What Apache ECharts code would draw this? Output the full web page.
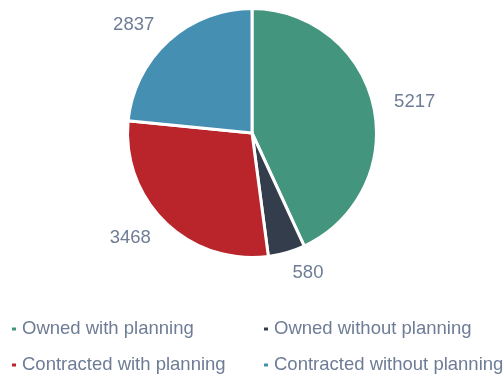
<!DOCTYPE html>
<html>
<head>
<meta charset="utf-8">
<script src="https://cdn.jsdelivr.net/npm/echarts@6/dist/echarts.min.js"></script>
<style>
  html, body { margin: 0; padding: 0; background: #ffffff; }
  #chart { width: 504px; height: 378px; }
</style>
</head>
<body>
<div id="chart"></div>
<script>
// Fleet breakdown by ownership and planning status
const categories = [
  'Owned with planning',
  'Owned without planning',
  'Contracted with planning',
  'Contracted without planning'
];
const values = [5217, 580, 3468, 2837];
const colors = ['#43967d', '#343d4c', '#b9252b', '#458fb3'];

const textColor = '#6e7c96';
const fontFamily = 'Liberation Sans, Arial, sans-serif';

const chart = echarts.init(document.getElementById('chart'), null, { renderer: 'canvas' });

chart.setOption({
  animation: false,
  color: colors,
  legend: {
    data: categories,
    orient: 'horizontal',
    left: 10,
    top: 316,
    width: 495,
    padding: 0,
    icon: 'rect',
    itemWidth: 6,
    itemHeight: 5,
    itemGap: 10,
    textStyle: {
      color: textColor,
      fontFamily: fontFamily,
      fontSize: 18.5,
      width: 230,
      lineHeight: 26
    }
  },
  series: [{
    type: 'pie',
    center: [252, 133],
    radius: 124.5,
    startAngle: 90,
    clockwise: true,
    avoidLabelOverlap: false,
    itemStyle: {
      borderColor: '#ffffff',
      borderWidth: 3
    },
    label: {
      show: true,
      position: 'outside',
      formatter: '{c}',
      color: textColor,
      fontFamily: fontFamily,
      fontSize: 18.5,
      distanceToLabelLine: 0
    },
    labelLine: {
      show: false,
      length: 21,
      length2: 0
    },
    emphasis: { disabled: true },
    data: categories.map((name, i) => ({ name: name, value: values[i] }))
  }]
});
</script>
</body>
</html>
